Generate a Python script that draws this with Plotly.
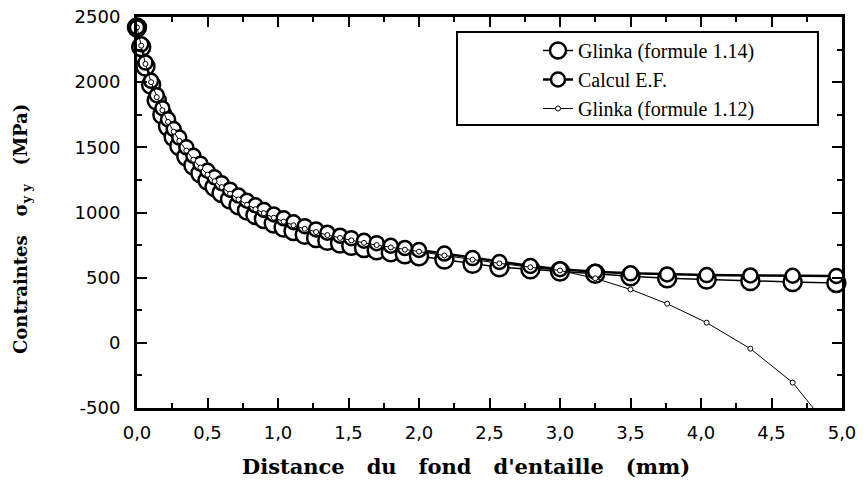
import plotly.graph_objects as go

# Distance from notch root (mm)
distance_mm = [0.00, 0.03, 0.06, 0.10, 0.14, 0.18, 0.22, 0.26, 0.30, 0.35, 0.40, 0.45,
               0.50, 0.55, 0.60, 0.66, 0.72, 0.78, 0.84, 0.90, 0.97, 1.04, 1.11, 1.19,
               1.27, 1.35, 1.44, 1.52, 1.61, 1.70, 1.80, 1.90, 2.00, 2.18, 2.38, 2.57,
               2.79, 3.00, 3.25, 3.50, 3.76, 4.04, 4.35, 4.65, 4.96]

# Glinka (formule 1.14) - large open circles
glinka_114 = [2420, 2270, 2120, 1980, 1860, 1750, 1660, 1580, 1510, 1430, 1360, 1300,
              1245, 1195, 1150, 1100, 1055, 1015, 980, 950, 915, 885, 858, 830,
              805, 783, 762, 745, 727, 710, 695, 680, 665, 640, 607, 580,
              565, 548, 530, 510, 495, 485, 475, 467, 460]

# Calcul E.F. - medium circles, thick line
calcul_ef = [2420, 2290, 2150, 2010, 1900, 1800, 1715, 1640, 1575, 1500, 1435, 1375,
             1320, 1270, 1225, 1175, 1130, 1090, 1055, 1020, 985, 955, 925, 895,
             870, 845, 822, 803, 783, 765, 745, 728, 712, 685, 650, 620,
             590, 565, 545, 533, 525, 520, 517, 515, 513]

# Glinka (formule 1.12) - thin line, small markers
glinka_112 = [2420, 2280, 2140, 2000, 1885, 1785, 1695, 1620, 1550, 1475, 1405, 1345,
              1290, 1240, 1195, 1145, 1100, 1060, 1025, 995, 960, 930, 902, 875,
              850, 827, 805, 786, 767, 750, 732, 715, 700, 670, 638, 610,
              580, 555, 495, 410, 300, 155, -45, -305, -720]

x_tick_vals = [0.0, 0.5, 1.0, 1.5, 2.0, 2.5, 3.0, 3.5, 4.0, 4.5, 5.0]
x_tick_text = ["0,0", "0,5", "1,0", "1,5", "2,0", "2,5", "3,0", "3,5", "4,0", "4,5", "5,0"]
y_tick_vals = [-500, 0, 500, 1000, 1500, 2000, 2500]
y_tick_text = ["-500", "0", "500", "1000", "1500", "2000", "2500"]

# plot-area geometry in screen pixels (used only to place decorations)
PX_L, PX_R, PX_T, PX_B = 137, 842, 17, 408
def px(xs):
    return (xs - PX_L) / (PX_R - PX_L)
def py(ys):
    return (PX_B - ys) / (PX_B - PX_T)

fig = go.Figure()

fig.add_trace(go.Scatter(
    x=distance_mm, y=glinka_114, mode="lines+markers", name="Glinka (formule 1.14)",
    line=dict(color="black", width=1.5),
    marker=dict(symbol="circle", size=18, color="white", line=dict(color="black", width=2.5)),
    cliponaxis=False,
))
fig.add_trace(go.Scatter(
    x=distance_mm, y=calcul_ef, mode="lines+markers", name="Calcul E.F.",
    line=dict(color="black", width=2.5),
    marker=dict(symbol="circle", size=14, color="white", line=dict(color="black", width=2.5)),
    cliponaxis=False,
))
fig.add_trace(go.Scatter(
    x=distance_mm, y=glinka_112, mode="lines+markers", name="Glinka (formule 1.12)",
    line=dict(color="black", width=1),
    marker=dict(symbol="circle", size=5, color="white", line=dict(color="black", width=1)),
))

axis_common = dict(
    showline=True, linewidth=3, linecolor="black", mirror="ticks",
    ticks="inside", ticklen=10, tickwidth=2, tickcolor="black",
    showgrid=False, zeroline=False, automargin=False, ticklabeloverflow="allow",
    tickfont=dict(family="DejaVu Sans, Arial, sans-serif", size=18, color="black"),
)

fig.update_xaxes(
    range=[0, 5], tickvals=x_tick_vals, ticktext=x_tick_text,
    minor=dict(ticks="inside", ticklen=5, tickwidth=2, tickcolor="black", dtick=0.25, tick0=0),
    ticklabelstandoff=6,
    **axis_common,
)
fig.update_yaxes(
    range=[-500, 2500], tickvals=y_tick_vals, ticktext=y_tick_text,
    minor=dict(ticks="inside", ticklen=5, tickwidth=2, tickcolor="black", dtick=250, tick0=0),
    ticklabelstandoff=10,
    **axis_common,
)

fig.update_layout(
    width=867, height=483,
    margin=dict(l=137, r=25, t=17, b=75, autoexpand=False),
    plot_bgcolor="white", paper_bgcolor="white",
    showlegend=True,
    legend=dict(
        x=px(538), y=py(31), xanchor="left", yanchor="top",
        borderwidth=0, bgcolor="rgba(0,0,0,0)",
        font=dict(family="Liberation Serif, Times New Roman, serif", size=20, color="black"),
        tracegroupgap=0,
    ),
    shapes=[
        dict(type="rect", xref="paper", yref="paper",
             x0=px(457), x1=px(818), y0=py(125), y1=py(32),
             line=dict(color="black", width=2), fillcolor="white", layer="below"),
    ],
    annotations=[
        dict(text="<b>Distance   du   fond   d'entaille   (mm)</b>", xref="paper", yref="paper",
             x=px(466), y=py(466), xanchor="center", yanchor="middle",
             showarrow=False,
             font=dict(family="DejaVu Serif, serif", size=21, color="black")),
        dict(text="<b>Contraintes   σ<sub>y y</sub>   (MPa)</b>", xref="paper", yref="paper",
             x=px(22), y=py(229), xanchor="center", yanchor="middle",
             textangle=-90, showarrow=False,
             font=dict(family="DejaVu Serif, serif", size=18, color="black")),
    ],
)

fig.write_html("out.html", post_script="document.body.style.margin='0';",
               config={"displayModeBar": False})
